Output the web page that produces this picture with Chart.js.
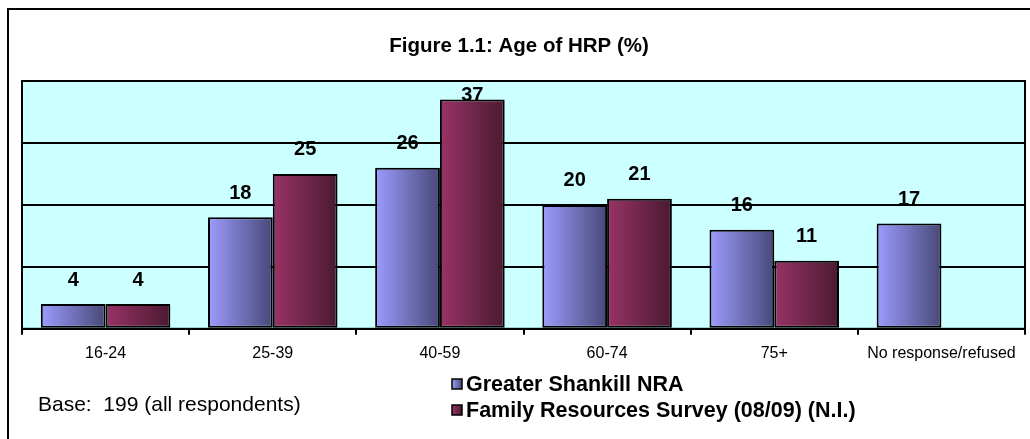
<!DOCTYPE html>
<html>
<head>
<meta charset="utf-8">
<script src="https://cdn.jsdelivr.net/npm/chart.js@4/dist/chart.umd.min.js"></script>
<style>
  body { margin: 0; background: #fff; }
  #wrap { width: 1030px; height: 439px; }
</style>
</head>
<body>
<div id="wrap"><canvas id="myChart" width="1030" height="439"></canvas></div>
<script>
// data
const ageGroups = ["16-24", "25-39", "40-59", "60-74", "75+", "No response/refused"];
const shankill = [4, 18, 26, 20, 16, 17];
const frs = [4, 25, 37, 21, 11, null];
const seriesNames = ["Greater Shankill NRA", "Family Resources Survey (08/09) (N.I.)"];
const yTicks = [0, 10, 20, 30, 40];

const FONT = "'Liberation Sans', Arial, sans-serif";
const CAT_PCT = 0.775;

// light/dark ends of each bar's horizontal gradient
const shades = [
  ["#9c9cff", "#484878"],
  ["#993366", "#4a1a30"],
];

function barGradient(ctx, dsIndex) {
  const chart = ctx.chart;
  const xs = chart.scales.x;
  if (!chart.chartArea || !xs || ctx.dataIndex === undefined) return shades[dsIndex][0];
  const catW = xs.width / ageGroups.length;
  const barW = catW * CAT_PCT / 2;
  const center = xs.getPixelForValue(ctx.dataIndex);
  const x0 = dsIndex === 0 ? center - barW : center;
  const g = chart.ctx.createLinearGradient(x0, 0, x0 + barW, 0);
  g.addColorStop(0, shades[dsIndex][0]);
  g.addColorStop(1, shades[dsIndex][1]);
  return g;
}

//plot background, frame, title, legend, base note
const decorations = {
  id: "decorations",
  beforeDraw(chart) {
    const c = chart.ctx;
    const a = chart.chartArea;
    c.save();
    c.fillStyle = "#ccffff";
    c.fillRect(a.left, a.top, a.right - a.left, a.bottom - a.top);
    // outer frame (runs off the right and bottom edges)
    c.strokeStyle = "#000";
    c.lineWidth = 2;
    c.beginPath();
    c.moveTo(8, 445);
    c.lineTo(8, 9);
    c.lineTo(1040, 9);
    c.stroke();
    // title
    c.fillStyle = "#000";
    c.font = "bold 20.5px " + FONT;
    c.textAlign = "center";
    c.textBaseline = "middle";
    c.fillText("Figure 1.1: Age of HRP (%)", 519, 46);
    // base note
    c.font = "21px " + FONT;
    c.textAlign = "left";
    c.fillText("Base:  199 (all respondents)", 38, 405);
    // legend
    c.font = "bold 21.5px " + FONT;
    seriesNames.forEach(function (name, i) {
      const y = 384 + i * 26;
      const g = c.createLinearGradient(452, 0, 462, 0);
      g.addColorStop(0, shades[i][0]);
      g.addColorStop(1, shades[i][1]);
      c.fillStyle = g;
      c.fillRect(452, y - 5, 10, 10);
      c.lineWidth = 1.5;
      c.strokeRect(452, y - 5, 10, 10);
      c.fillStyle = "#000";
      c.fillText(name, 466, y + 1);
    });
    c.restore();
  },
  afterDatasetsDraw(chart) {
    const c = chart.ctx;
    const a = chart.chartArea;
    c.save();
    // plot border
    c.strokeStyle = "#000";
    c.lineWidth = 2;
    c.strokeRect(a.left, a.top, a.right - a.left, a.bottom - a.top);
    // value labels
    c.fillStyle = "#000";
    c.font = "bold 20px " + FONT;
    c.textAlign = "center";
    c.textBaseline = "middle";
    chart.data.datasets.forEach(function (ds, i) {
      chart.getDatasetMeta(i).data.forEach(function (bar, j) {
        const v = ds.data[j];
        if (v === null || v === undefined) return;
        const y = Math.max(bar.y - 24, a.top + 14);
        c.fillText(String(v), bar.x, y);
      });
    });
    c.restore();
  },
};

var ctx = document.getElementById("myChart");
var myChart = new Chart(ctx, {
  type: "bar",
  data: {
    labels: ageGroups,
    datasets: [
      {
        label: seriesNames[0],
        data: shankill,
        backgroundColor: (c) => barGradient(c, 0),
        borderColor: "#000",
        borderWidth: 2,
        borderSkipped: false,
        categoryPercentage: CAT_PCT,
        barPercentage: 1.0,
      },
      {
        label: seriesNames[1],
        data: frs,
        backgroundColor: (c) => barGradient(c, 1),
        borderColor: "#000",
        borderWidth: 2,
        borderSkipped: false,
        categoryPercentage: CAT_PCT,
        barPercentage: 1.0,
      },
    ],
  },
  options: {
    responsive: false,
    animation: false,
    layout: { padding: { left: 22, right: 5, top: 81, bottom: 67 } },
    plugins: {
      legend: { display: false },
      tooltip: { enabled: false },
    },
    scales: {
      x: {
        grid: {
          drawOnChartArea: false,
          drawTicks: true,
          tickLength: 6,
          color: "#000",
          lineWidth: 2,
        },
        border: { color: "#000", width: 2 },
        ticks: {
          color: "#000",
          padding: 9,
          font: { family: FONT, size: 16 },
        },
      },
      y: {
        min: yTicks[0],
        max: yTicks[yTicks.length - 1],
        afterBuildTicks: (axis) => {
          axis.ticks = yTicks.map((v) => ({ value: v }));
        },
        ticks: { display: false },
        grid: { color: "#000", lineWidth: 2, drawTicks: false },
        border: { display: false },
      },
    },
  },
  plugins: [decorations],
});
</script>
</body>
</html>
